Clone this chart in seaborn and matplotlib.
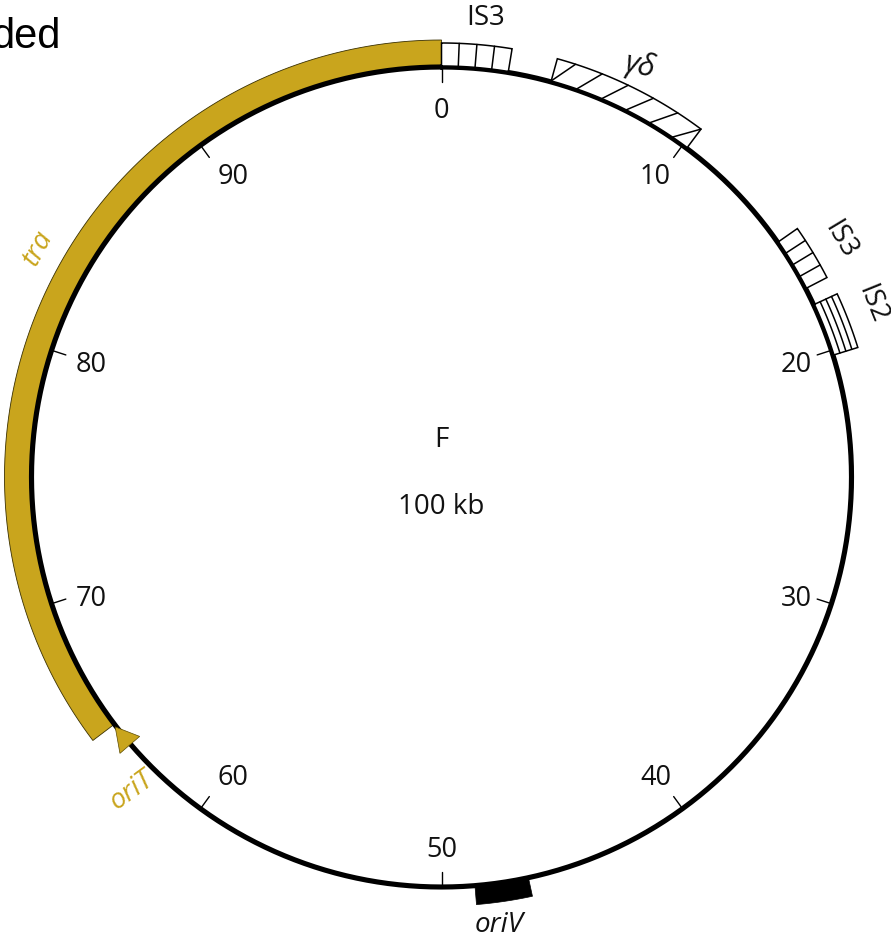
import numpy as np
import matplotlib
matplotlib.use("Agg")
import matplotlib.pyplot as plt
from matplotlib.patches import Polygon
import seaborn as sns

# ---------------- data ----------------
plasmid_name = "F"
plasmid_size_label = "100 kb"
genome_kb = 100
tick_positions = [0, 10, 20, 30, 40, 50, 60, 70, 80, 90]
tick_labels = ["0", "10", "20", "30", "40", "50", "60", "70", "80", "90"]

box_features = ["IS3", "γδ", "IS3", "IS2"]
box_starts = [0.0, 4.3, 15.3, 18.1]
box_ends = [2.6, 10.2, 17.4, 20.2]
box_styles = ["radial", "hatch", "radial", "concentric"]

oriV_start, oriV_end = 46.6, 48.7
tra_start, tra_end = 64.7, 100.0
oriT_pos = 64.6

# ---------------- style ----------------
GOLD = "#C9A51D"
CX, CY, R = 441.5, 478.0, 410.0
FONT = ["Open Sans", "DejaVu Sans"]

sns.set_theme(style="white")
plt.rcParams["font.family"] = FONT
plt.rcParams["mathtext.fontset"] = "custom"
plt.rcParams["mathtext.rm"] = "Open Sans"
plt.rcParams["mathtext.it"] = "Open Sans:italic"

fig = plt.figure(figsize=(8.91, 9.45), dpi=100)
ax = fig.add_axes([0, 0, 1, 1])
ax.set_xlim(0, 891)
ax.set_ylim(945, 0)
ax.axis("off")


def xy(kb, r):
    th = np.asarray(kb) / genome_kb * 2 * np.pi
    return CX + r * np.sin(th), CY - r * np.cos(th)


def arc(k0, k1, r, n=120):
    ks = np.linspace(k0, k1, n)
    return np.column_stack(xy(ks, r))


def sector(k0, k1, r0, r1, **kw):
    pts = np.vstack([arc(k0, k1, r0), arc(k0, k1, r1)[::-1]])
    p = Polygon(pts, closed=True, **kw)
    ax.add_patch(p)
    return p


# tra band
sector(tra_start, tra_end, 411, 437, facecolor=GOLD, edgecolor="#3a3000",
       linewidth=0.6, zorder=2)

# oriT arrowhead
tip = xy(oriT_pos, 411)
b1 = xy(oriT_pos - 0.9, 398)
b2 = xy(oriT_pos - 0.9, 424)
ax.add_patch(Polygon([tip, b1, b2], closed=True, facecolor=GOLD,
                     edgecolor="#5a4a00", linewidth=0.5, zorder=5))

# main circle via seaborn
circ = arc(0, genome_kb, R, 721)
sns.lineplot(x=circ[:, 0], y=circ[:, 1], sort=False, estimator=None,
             color="black", linewidth=3.7, ax=ax, zorder=3)

# ticks and labels (small optical nudges as in the original artwork)
label_nudge = {"90": (9, -2), "60": (8, 1), "10": (-3, -2), "40": (-3, 1),
               "70": (1, 7), "30": (4, 7), "20": (4, 1), "80": (1, 1),
               "0": (0, 2), "50": (0, 3)}
for pos, lab in zip(tick_positions, tick_labels):
    x0, y0 = xy(pos, R)
    x1, y1 = xy(pos, R - 15)
    ax.plot([x0, x1], [y0, y1], color="black", linewidth=1.0, zorder=3)
    lx, ly = xy(pos, 369)
    nx, ny = label_nudge.get(lab, (0, 0))
    ax.text(lx + nx, ly + ny, lab, ha="center", va="center", fontsize=19.5,
            color="#111111")

# boxed features
for name, s, e, style in zip(box_features, box_starts, box_ends, box_styles):
    r_in, r_out = 411, 434 if style != "concentric" else 436
    sector(s, e, r_in, r_out, facecolor="white", edgecolor="black",
           linewidth=1.1, zorder=4)
    if style == "radial":
        for k in range(1, 4):
            p = s + (e - s) * k / 4
            xa, ya = xy(p, r_in)
            xb, yb = xy(p, r_out)
            ax.plot([xa, xb], [ya, yb], color="black", linewidth=1.1, zorder=4)
    elif style == "concentric":
        for k in range(1, 4):
            rr = r_in + (r_out - r_in) * k / 4
            a = arc(s, e, rr, 40)
            ax.plot(a[:, 0], a[:, 1], color="black", linewidth=1.1, zorder=4)
    elif style == "hatch":
        d = 0.7
        for i in range(6):
            p = s + i * (e - d - s) / 5
            xa, ya = xy(p, r_in)
            xb, yb = xy(p + d, r_out)
            ax.plot([xa, xb], [ya, yb], color="black", linewidth=1.1, zorder=4)

# oriV block
sector(oriV_start, oriV_end, 410, 429, facecolor="black", edgecolor="black",
       linewidth=0.5, zorder=4)

# feature labels
ax.text(486, 18, r"IS$\mathit{3}$", ha="center", va="center", fontsize=20,
        color="#111111")
ax.text(640, 66, "γδ", ha="center", va="center", fontsize=22, style="italic",
        rotation=-12, color="#111111")
ax.text(840, 240, "IS3", ha="center", va="center", fontsize=20,
        rotation=-59, color="#111111")
ax.text(872, 304, "IS2", ha="center", va="center", fontsize=20,
        rotation=-68, color="#111111")
ax.text(38, 248, "tra", ha="center", va="center", fontsize=20,
        style="italic", rotation=62, color=GOLD)
ax.text(132, 790, "oriT", ha="center", va="center", fontsize=20,
        style="italic", rotation=36, color=GOLD)
ax.text(499, 925, "oriV", ha="center", va="center", fontsize=20,
        style="italic", color="#111111")

# centre labels
ax.text(CX, 440, plasmid_name, ha="center", va="center", fontsize=20,
        color="#111111")
ax.text(CX, 507, plasmid_size_label, ha="center", va="center", fontsize=20,
        color="#111111")

# cropped fragment of surrounding slide text
ax.text(61, 48, "ded", ha="right", va="baseline", fontsize=30,
        family=["Liberation Sans", "DejaVu Sans"], color="black")

fig.savefig("out.png", dpi=100)
